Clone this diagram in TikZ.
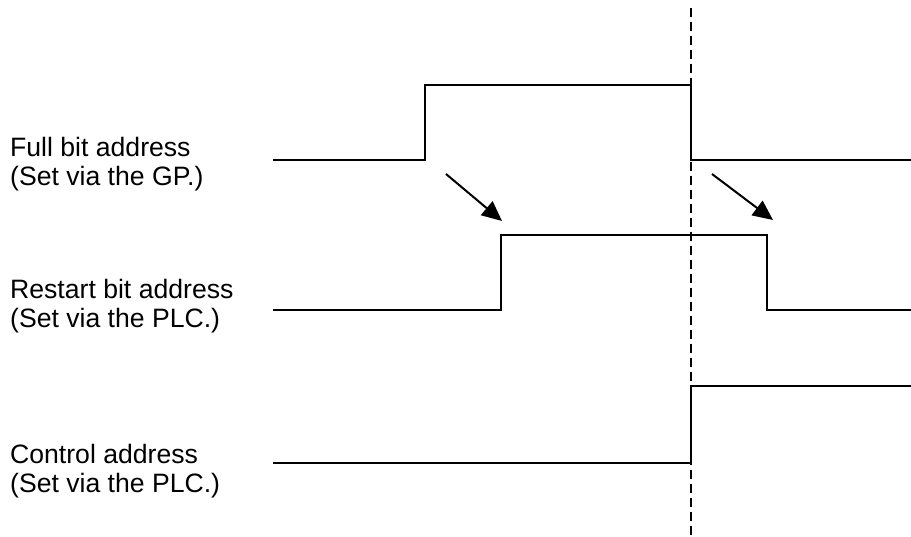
\documentclass[tikz,border=0pt]{standalone}
\usepackage{fontspec}
\setmainfont{Liberation Sans}
\usetikzlibrary{arrows.meta}
\begin{document}
\begin{tikzpicture}[x=1pt,y=-1pt,
  wave/.style={line width=2pt,line join=miter},
  guide/.style={line width=2pt,dash pattern=on 9pt off 5pt},
  cause/.style={line width=2pt,-{Triangle[length=20pt,width=18pt]}},
  lbl/.style={anchor=base west,inner sep=0pt,font=\fontsize{26.6}{28.5}\selectfont}]
\useasboundingbox (0,0) rectangle (911,537);
% labels
\node[lbl] (l1a) at (10,157) {Full bit address};
\node[lbl] (l1b) at (10,185.5) {(Set via the GP.)};
\node[lbl] (l2a) at (10,299) {Restart bit address};
\node[lbl] (l2b) at (10,327.5) {(Set via the PLC.)};
\node[lbl] (l3a) at (10,464) {Control address};
\node[lbl] (l3b) at (10,492.5) {(Set via the PLC.)};
% guide line
\coordinate (gt) at (691,8);
\coordinate (gb) at (691,537);
\draw[guide] (gt) -- (gb);
% waveforms
\draw[wave] (273,160) -- (425,160) -- (425,85) -- (691,85) -- (691,160) -- (911,160);
\draw[wave] (273,310) -- (501,310) -- (501,235) -- (767,235) -- (767,310) -- (911,310);
\draw[wave] (273,463) -- (691,463) -- (691,386) -- (911,386);
% arrows
\coordinate (a1s) at (446,174);
\coordinate (a1e) at (502,221);
\coordinate (a2s) at (712,174);
\coordinate (a2e) at (773,220);
\draw[cause] (a1s) -- (a1e);
\draw[cause] (a2s) -- (a2e);
\end{tikzpicture}
\end{document}
